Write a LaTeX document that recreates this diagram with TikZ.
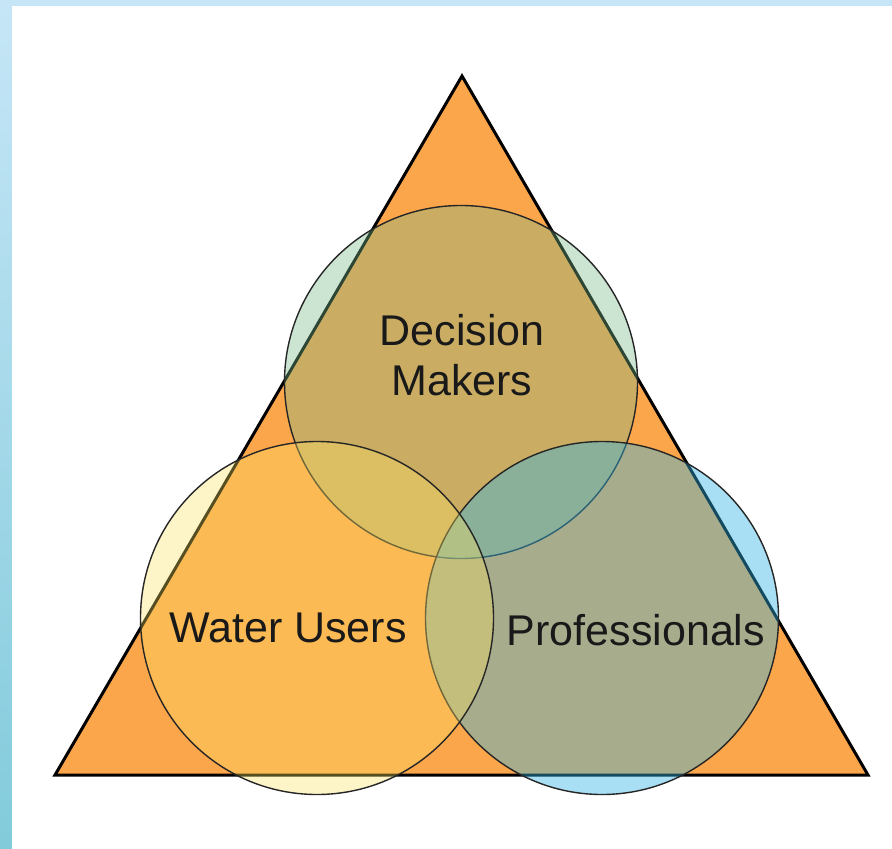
\documentclass[tikz,border=0pt]{standalone}
\usepackage{fontspec}
\setmainfont{Liberation Sans}
\usetikzlibrary{positioning}

\definecolor{triorange}{RGB}{252,166,76}
\definecolor{dmgreen}{RGB}{121,187,139}
\definecolor{wuyellow}{RGB}{251,226,97}
\definecolor{problue}{RGB}{50,181,229}
\definecolor{skytop}{RGB}{198,230,247}
\definecolor{skybot}{RGB}{130,203,219}

\begin{document}
\begin{tikzpicture}
        [
            x=0.5pt, y=-0.5pt,
            group/.style = {draw=black!85, shape=circle, minimum size=176.5pt, inner sep=0pt, line width=0.7pt},
            grouptext/.style = {text=black!90, font=\fontsize{21.5}{25}\selectfont, align=center},
        ]

        \shade[top color=skytop, bottom color=skybot] (0,0) rectangle (892,849);
        \fill[white] (12,6) rectangle (892,849);
        \useasboundingbox (0,0) rectangle (892,849);

        \coordinate (apex) at (462,76);
        \coordinate (bl) at (55,775);
        \coordinate (br) at (868,775);
        \draw[fill=triorange, line width=1.5pt] (apex) -- (bl) -- (br) -- cycle;

        \node[group, fill=dmgreen, fill opacity=0.38] (dm) at (461,382)     {};
        \node[group, fill=problue, fill opacity=0.42] (pro) at (602,618)    {};
        \node[group, fill=wuyellow, fill opacity=0.35] (wu) at (317,618)    {};

        \node[grouptext] (dmtext) at (462,355)   {Decision\\Makers};
        \node[grouptext] (wutext) at (288,628)   {Water Users};
        \node[grouptext] (protext) at (636,630)  {Professionals};
    \end{tikzpicture}
\end{document}
